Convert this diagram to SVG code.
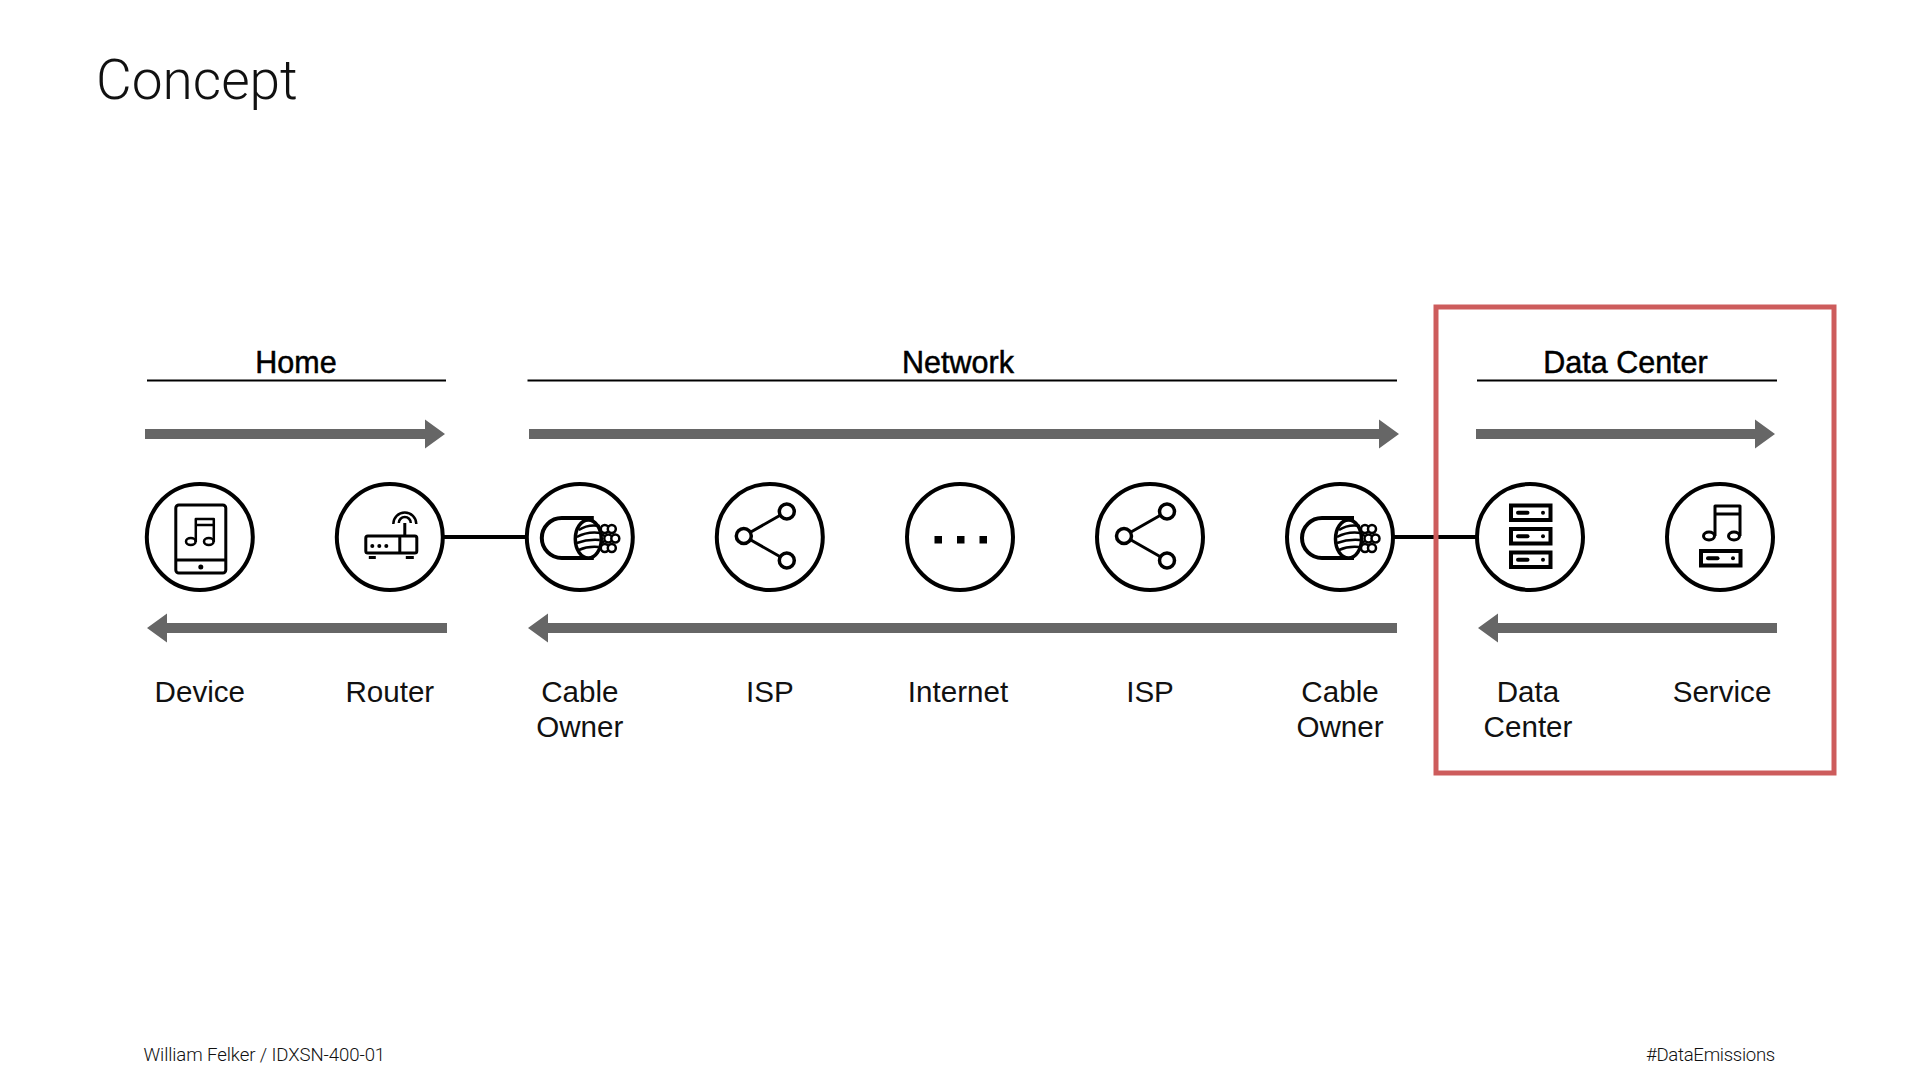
<svg xmlns="http://www.w3.org/2000/svg" width="1920" height="1080" viewBox="0 0 1920 1080">
<style>
text{font-family:"Liberation Sans",Arial,sans-serif;fill:#111}
.title{font-family:Roboto,"Liberation Sans",sans-serif;font-weight:300;font-size:55px}
.foot{font-family:Roboto,"Liberation Sans",sans-serif;font-weight:300;font-size:18.6px}
.head{font-size:30.5px;text-anchor:middle;stroke:#000;stroke-width:.5px;fill:#000}
.lab{font-size:29.6px;text-anchor:middle}
.ring{fill:#fff;stroke:#000;stroke-width:4px}
.ic{fill:none;stroke:#000;stroke-width:3px;stroke-linejoin:round}
.ict{fill:#fff;stroke:#000;stroke-width:3.5px}
.thick{fill:none;stroke:#000;stroke-width:4px}
.solid{fill:#000}
.rule{stroke:#000;stroke-width:2px}
.flow{fill:#666}
.wire{stroke:#000;stroke-width:4px}
</style>
<defs>
<g id="cable">
<path class="ict" style="stroke-width:4px" d="M14-19H-18a20 20 0 0 0 0 40H14"/>
<g class="ict" style="stroke-width:2.500px"><circle cx="25" cy="-8" r="4"/><circle cx="32" cy="-8" r="4"/><circle cx="21.500" cy="1.500" r="4"/><circle cx="28.500" cy="1.500" r="4"/><circle cx="35.500" cy="1.500" r="4"/><circle cx="25" cy="11" r="4"/><circle cx="32" cy="11" r="4"/></g>
<ellipse class="ict" style="stroke-width:3.500px" cx="8.500" cy="2" rx="13" ry="19"/>
<path class="ic" style="stroke-width:2.500px" d="M-1-7Q8-13 20-11M-3 0Q8-6 21-4M-3 6Q8 2 20 3M-1 13Q8 9 19 10"/>
</g>
<g id="share">
<path class="ic" d="M-26-1 17-25.500M-26-1 17 23.500"/>
<circle class="ict" cx="-26" cy="-1" r="7.500"/><circle class="ict" cx="17" cy="-25.500" r="7.500"/><circle class="ict" cx="17" cy="23.500" r="7.500"/>
</g>
<g id="rack">
<rect class="thick" x="-19" y="2" width="39.500" height="14.500"/>
<path class="thick" d="M-12 9.200H-2.500" style="stroke-linecap:round"/>
<circle class="solid" cx="13" cy="9.200" r="2"/>
</g>
</defs>
<text class="title" x="96" y="98.500">Concept</text>
<g id="connectors">
<line class="wire" x1="443" y1="537" x2="528" y2="537"/>
<line class="wire" x1="1393" y1="537" x2="1478" y2="537"/>
<path class="flow" d="M145 429H425V419.500L445 434 425 448.500V439H145Z"/>
<path class="flow" d="M529 429H1379V419.500L1399 434 1379 448.500V439H529Z"/>
<path class="flow" d="M1476 429H1755V419.500L1775 434 1755 448.500V439H1476Z"/>
<path class="flow" d="M447 623H167V613.500L147 628 167 642.500V633H447Z"/>
<path class="flow" d="M1397 623H548V613.500L528 628 548 642.500V633H1397Z"/>
<path class="flow" d="M1777 623H1498V613.500L1478 628 1498 642.500V633H1777Z"/>
</g>
<g id="group-home"><line class="rule" x1="147" y1="380.500" x2="446" y2="380.500"/><text class="head" x="296" y="373">Home</text></g>
<g id="group-network"><line class="rule" x1="527.500" y1="380.500" x2="1397" y2="380.500"/><text class="head" x="958" y="373">Network</text></g>
<g id="group-datacenter"><line class="rule" x1="1477" y1="380.500" x2="1777" y2="380.500"/><text class="head" x="1625.500" y="373">Data Center</text></g>
<g id="node-device" transform="translate(199.800 537)"><circle class="ring" r="53"/>
<rect class="ic" x="-24" y="-32" width="50" height="68" rx="3"/><path class="ic" d="M-24 23H26"/><circle class="solid" cx="1" cy="30" r="2.500"/>
<path class="ic" style="stroke-width:2.500px" d="M-4 5V-18H14V5M-4-12H14"/><ellipse class="ic" style="stroke-width:2.500px" cx="-9" cy="4.500" rx="4.800" ry="3.500"/><ellipse class="ic" style="stroke-width:2.500px" cx="9" cy="4.500" rx="4.800" ry="3.500"/>
<text class="lab" x="0" y="165">Device</text></g>
<g id="node-router" transform="translate(389.800 537)"><circle class="ring" r="53"/>
<rect class="ic" x="-24" y="-1" width="51" height="17" rx="2"/><path class="ic" d="M10-1V16M15-1V-14M-21 20.500H-14M16 20.500H24"/>
<path class="ic" style="stroke-width:2.500px" d="M9-14A6 6 0 0 1 21-14M3.500-13A11.500 11.500 0 0 1 26.500-13"/>
<circle class="solid" cx="-17.500" cy="9" r="2"/><circle class="solid" cx="-10.500" cy="9" r="2"/><circle class="solid" cx="-3.500" cy="9" r="2"/>
<text class="lab" x="0" y="165">Router</text></g>
<g id="node-cable-1" transform="translate(579.800 537)"><circle class="ring" r="53"/><use href="#cable"/>
<text class="lab" x="0" y="165">Cable</text><text class="lab" x="0" y="199.500">Owner</text></g>
<g id="node-isp-1" transform="translate(769.800 537)"><circle class="ring" r="53"/><use href="#share"/>
<text class="lab" x="0" y="165">ISP</text></g>
<g id="node-internet" transform="translate(960 537)"><circle class="ring" r="53"/>
<rect class="solid" x="-25.500" y="-1" width="7.500" height="7.500"/><rect class="solid" x="-3" y="-1" width="7.500" height="7.500"/><rect class="solid" x="19.500" y="-1" width="7.500" height="7.500"/>
<text class="lab" x="-2" y="165">Internet</text></g>
<g id="node-isp-2" transform="translate(1150 537)"><circle class="ring" r="53"/><use href="#share"/>
<text class="lab" x="0" y="165">ISP</text></g>
<g id="node-cable-2" transform="translate(1340 537)"><circle class="ring" r="53"/><use href="#cable"/>
<text class="lab" x="0" y="165">Cable</text><text class="lab" x="0" y="199.500">Owner</text></g>
<g id="node-datacenter" transform="translate(1530 537)"><circle class="ring" r="53"/>
<use href="#rack" y="-33.500"/><use href="#rack" y="-10"/><use href="#rack" y="13.500"/>
<text class="lab" x="-2" y="165">Data</text><text class="lab" x="-2" y="199.500">Center</text></g>
<g id="node-service" transform="translate(1720 537)"><circle class="ring" r="53"/>
<path class="ic" d="M-5-1V-31H20V-1M-5-23H20"/><ellipse class="ic" cx="-11" cy="-1" rx="5.500" ry="4"/><ellipse class="ic" cx="14" cy="-1" rx="5.500" ry="4"/>
<use href="#rack" y="12"/>
<text class="lab" x="2" y="165">Service</text></g>
<rect id="highlight" x="1436" y="307" width="398" height="466" fill="none" stroke="#cd5c5c" stroke-width="5"/>
<text class="foot" x="143.500" y="1061" style="letter-spacing:-.1px">William Felker / IDXSN-400-01</text>
<text class="foot" x="1775" y="1061" text-anchor="end" style="letter-spacing:-.3px">#DataEmissions</text>
</svg>
